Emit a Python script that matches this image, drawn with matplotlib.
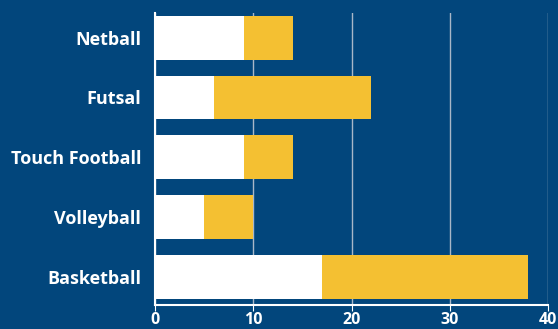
import matplotlib.pyplot as plt

sports = ['Basketball', 'Volleyball', 'Touch Football', 'Futsal', 'Netball']
first = [17, 5, 9, 6, 9]
second = [21, 5, 5, 16, 5]

BG = '#02467C'
YELLOW = '#F4C032'

plt.rcParams['font.family'] = ['Open Sans', 'DejaVu Sans']

fig = plt.figure(figsize=(5.58, 3.29), dpi=100, facecolor=BG)
ax = fig.add_axes([0.278, 0.073, 0.704, 0.887], facecolor=BG)

ax.barh(sports, first, height=0.73, color='white', zorder=3)
ax.barh(sports, second, left=first, height=0.73, color=YELLOW, zorder=3)

ax.set_xlim(0, 40)
ax.set_ylim(-0.47, 4.41)
ax.set_xticks([0, 10, 20, 30, 40])
ax.grid(axis='x', color='#A9B7C8', linewidth=1, zorder=0)

for side in ['top', 'right']:
    ax.spines[side].set_visible(False)
for side in ['left', 'bottom']:
    ax.spines[side].set_color('white')
    ax.spines[side].set_linewidth(1.5)

ax.tick_params(axis='y', length=0, pad=10, labelsize=13, labelcolor='white')
ax.tick_params(axis='x', length=4, color='white', pad=1, labelsize=11.5, labelcolor='white')
for lbl in ax.get_yticklabels() + ax.get_xticklabels():
    lbl.set_fontweight('bold')

fig.savefig('out.png', dpi=100, facecolor=BG)
